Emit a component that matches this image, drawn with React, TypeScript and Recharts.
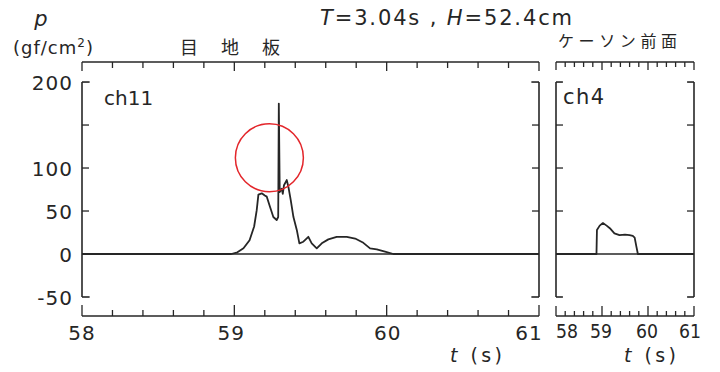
import React from 'react';
import { LineChart, Line, XAxis, YAxis, ReferenceLine, ReferenceDot } from 'recharts';

// ---- data ----
const ch11Times = [58.0, 58.98, 59.02, 59.06, 59.1, 59.13, 59.147, 59.158, 59.18, 59.2, 59.213, 59.234, 59.256, 59.278, 59.288, 59.292, 59.298, 59.311, 59.318, 59.326, 59.344, 59.355, 59.37, 59.388, 59.41, 59.427, 59.453, 59.486, 59.508, 59.541, 59.574, 59.617, 59.672, 59.738, 59.793, 59.847, 59.891, 59.935, 59.989, 60.044, 61.0];
const ch11Values = [0, 0, 2, 6.6, 16, 32, 51, 69, 70.6, 68, 66.7, 55, 43, 39.5, 43, 175, 72, 76, 70, 80, 86, 78, 63, 43, 28, 12.4, 14.3, 20, 12.4, 6.6, 12.4, 17, 20, 20, 18, 13, 6.6, 5.4, 2.7, 0, 0];
const ch4Times = [58.0, 58.88, 58.89, 58.95, 59.02, 59.1, 59.17, 59.27, 59.38, 59.5, 59.6, 59.67, 59.71, 59.75, 59.78, 61.0];
const ch4Values = [0, 0, 28, 33, 36, 33, 30, 24, 22, 22.5, 22, 21, 19, 8, 0, 0];

const timeTicks = [58, 58.2, 58.4, 58.6, 58.8, 59, 59.2, 59.4, 59.6, 59.8, 60, 60.2, 60.4, 60.6, 60.8, 61];
const timeMajor = [58, 59, 60, 61];
const timeLabels = ['58', '59', '60', '61'];
const pressureTicks = [-50, 0, 50, 100, 150, 200];
const pressureLabels = ['-50', '0', '50', '100', '', '200'];
const innerTickValues = [50, 100, 150];
const timeDomain: [number, number] = [58, 61];
const pressureDomain: [number, number] = [-72.1, 223.3];
const frameRange: [number, number] = [-50, 200];
const peakMark = { t: 59.23, p: 112 };

const ch11Data = ch11Times.map((t, i) => ({ t, p: ch11Values[i] }));
const ch4Data = ch4Times.map((t, i) => ({ t, p: ch4Values[i] }));

// ---- styles ----
const INK = '#262626';
const FONT = '"DejaVu Sans", sans-serif';
const CJK = '"Noto Sans CJK JP", sans-serif';
const SW = 1.6;

const majorIndex = (v: number) => timeMajor.findIndex((m) => Math.abs(m - v) < 1e-6);

const leftLabelShift: Record<string, number> = { '58': 0, '59': -3, '60': 1, '61': -10 };
const rightLabelShift: Record<string, number> = { '58': 11, '59': -1, '60': -1, '61': -4 };

const makeBottomTick = (majorLen: number, minorLen: number, shift: Record<string, number>, narrow: boolean) => (props: any) => {
  const { x, y, payload } = props;
  const idx = majorIndex(payload.value);
  const major = idx >= 0;
  const label = major ? timeLabels[idx] : '';
  return (
    <g>
      <line x1={x} x2={x} y1={y} y2={y - (major ? majorLen : minorLen)} stroke={INK} strokeWidth={1.3} />
      {label && (
        narrow ? (
          <text x={x + (shift[label] || 0)} y={y + 15} textAnchor="middle" dominantBaseline="central" fontSize={20} fontFamily={FONT} fill={INK} textLength={22} lengthAdjust="spacingAndGlyphs">{label}</text>
        ) : (
          <text x={x + (shift[label] || 0)} y={y + 17} textAnchor="middle" dominantBaseline="central" fontSize={20} fontFamily={FONT} fill={INK} letterSpacing={1}>{label}</text>
        )
      )}
    </g>
  );
};

const makeTopTick = (majorLen: number, minorLen: number) => (props: any) => {
  const { x, y, payload } = props;
  const major = majorIndex(payload.value) >= 0;
  return <line x1={x} x2={x} y1={y} y2={y + (major ? majorLen : minorLen)} stroke={INK} strokeWidth={1.3} />;
};

const makeYTick = (side: 'left' | 'right', withLabels: boolean) => (props: any) => {
  const { x, y, payload } = props;
  const v = payload.value;
  const idx = pressureTicks.indexOf(v);
  const label = withLabels && idx >= 0 ? pressureLabels[idx] : '';
  const inner = innerTickValues.includes(v);
  const dir = side === 'left' ? 1 : -1;
  return (
    <g>
      {inner && <line x1={x} x2={x + dir * 7} y1={y} y2={y} stroke={INK} strokeWidth={1.3} />}
      {label && (
        <text x={x - 9} y={y + 1} textAnchor="end" dominantBaseline="central" fontSize={20} fontFamily={FONT} fill={INK} letterSpacing={1}>{label}</text>
      )}
    </g>
  );
};

function Panel(props: {
  data: { t: number; p: number }[];
  width: number;
  margin: { top: number; right: number; bottom: number; left: number };
  bracket: number;
  bottomTick: any;
  topTick: any;
  labels: boolean;
  mark?: { t: number; p: number };
}) {
  const { data, width, margin, bracket, bottomTick, topTick, labels, mark } = props;
  const [lo, hi] = frameRange;
  const [t0, t1] = timeDomain;
  return (
    <LineChart width={width} height={372} data={data} margin={margin}>
      <XAxis xAxisId="b" dataKey="t" type="number" orientation="bottom" domain={timeDomain} ticks={timeTicks} interval={0} allowDataOverflow height={30} tickSize={0} tickMargin={0} tickLine={false} axisLine={{ stroke: INK, strokeWidth: SW }} tick={bottomTick} />
      <XAxis xAxisId="t" dataKey="t" type="number" orientation="top" domain={timeDomain} ticks={timeTicks} interval={0} allowDataOverflow height={10} tickSize={0} tickMargin={0} tickLine={false} axisLine={{ stroke: INK, strokeWidth: SW }} tick={topTick} />
      <YAxis yAxisId="l" type="number" orientation="left" domain={pressureDomain} ticks={pressureTicks} interval={0} allowDataOverflow width={1} tickSize={0} tickMargin={0} tickLine={false} axisLine={false} tick={makeYTick('left', labels)} />
      <YAxis yAxisId="r" type="number" orientation="right" domain={pressureDomain} ticks={pressureTicks} interval={0} allowDataOverflow width={1} tickSize={0} tickMargin={0} tickLine={false} axisLine={false} tick={makeYTick('right', false)} />
      <ReferenceLine xAxisId="b" yAxisId="l" segment={[{ x: t0, y: lo }, { x: t0, y: hi }]} stroke={INK} strokeWidth={SW} />
      <ReferenceLine xAxisId="b" yAxisId="l" segment={[{ x: t0, y: hi }, { x: t0 + bracket, y: hi }]} stroke={INK} strokeWidth={SW} />
      <ReferenceLine xAxisId="b" yAxisId="l" segment={[{ x: t0, y: lo }, { x: t0 + bracket, y: lo }]} stroke={INK} strokeWidth={SW} />
      <ReferenceLine xAxisId="b" yAxisId="l" segment={[{ x: t1, y: lo }, { x: t1, y: hi }]} stroke={INK} strokeWidth={SW} />
      <ReferenceLine xAxisId="b" yAxisId="l" segment={[{ x: t1, y: hi }, { x: t1 - bracket, y: hi }]} stroke={INK} strokeWidth={SW} />
      <ReferenceLine xAxisId="b" yAxisId="l" segment={[{ x: t1, y: lo }, { x: t1 - bracket, y: lo }]} stroke={INK} strokeWidth={SW} />
      <ReferenceLine xAxisId="b" yAxisId="l" y={0} stroke={INK} strokeWidth={SW} />
      <Line xAxisId="b" yAxisId="l" type="linear" dataKey="p" stroke={INK} strokeWidth={1.8} dot={false} isAnimationActive={false} strokeLinejoin="round" />
      {mark && (
        <ReferenceDot xAxisId="b" yAxisId="l" x={mark.t} y={mark.p} r={34} fill="none" stroke="#e3262b" strokeWidth={1.5} />
      )}
    </LineChart>
  );
}

export default function App() {
  return (
    <div style={{ position: 'absolute', left: 0, top: 0, width: 720, height: 372, background: '#fff', overflow: 'hidden' }}>
      <div style={{ position: 'absolute', left: 0, top: 0 }}>
        <Panel
          data={ch11Data}
          width={560}
          margin={{ top: 52, right: 20, bottom: 26, left: 81 }}
          bracket={0.05}
          bottomTick={makeBottomTick(11, 6, leftLabelShift, false)}
          topTick={makeTopTick(9, 6)}
          labels={true}
          mark={peakMark}
        />
      </div>
      <div style={{ position: 'absolute', left: 540, top: 0 }}>
        <Panel
          data={ch4Data}
          width={180}
          margin={{ top: 52, right: 25, bottom: 26, left: 15 }}
          bracket={0.15}
          bottomTick={makeBottomTick(10, 5, rightLabelShift, true)}
          topTick={makeTopTick(8, 5)}
          labels={false}
        />
      </div>
      <svg width={720} height={372} style={{ position: 'absolute', left: 0, top: 0, pointerEvents: 'none' }}>
        <text x={41} y={26} textAnchor="middle" fontSize={21} fontStyle="italic" fontFamily={FONT} fill={INK}>p</text>
        <text x={13} y={54} fontSize={18} fontFamily={FONT} fill={INK} letterSpacing={1}>
          (gf/cm<tspan dy={-7} fontSize={12}>2</tspan><tspan dy={7}>)</tspan>
        </text>
        <text x={180} y={54} fontSize={18} fontFamily={CJK} fill={INK} textLength={100} lengthAdjust="spacing">目地板</text>
        <text x={320} y={25} fontSize={21} fontFamily={FONT} fill={INK} textLength={252} lengthAdjust="spacing">
          <tspan fontStyle="italic">T</tspan>=3.04s , <tspan fontStyle="italic">H</tspan>=52.4cm
        </text>
        <text x={558} y={47} fontSize={16} fontFamily={CJK} fill={INK} textLength={119} lengthAdjust="spacing">ケーソン前面</text>
        <text x={104} y={105} fontSize={20} fontFamily={FONT} fill={INK}>ch11</text>
        <text x={563} y={104} fontSize={21} fontFamily={FONT} fill={INK} letterSpacing={1.5}>ch4</text>
        <text x={450} y={362} fontSize={19} fontFamily={FONT} fill={INK} textLength={52} lengthAdjust="spacing">
          <tspan fontStyle="italic">t</tspan>  (s)
        </text>
        <text x={624} y={362} fontSize={19} fontFamily={FONT} fill={INK} textLength={52} lengthAdjust="spacing">
          <tspan fontStyle="italic">t</tspan>  (s)
        </text>
      </svg>
    </div>
  );
}
